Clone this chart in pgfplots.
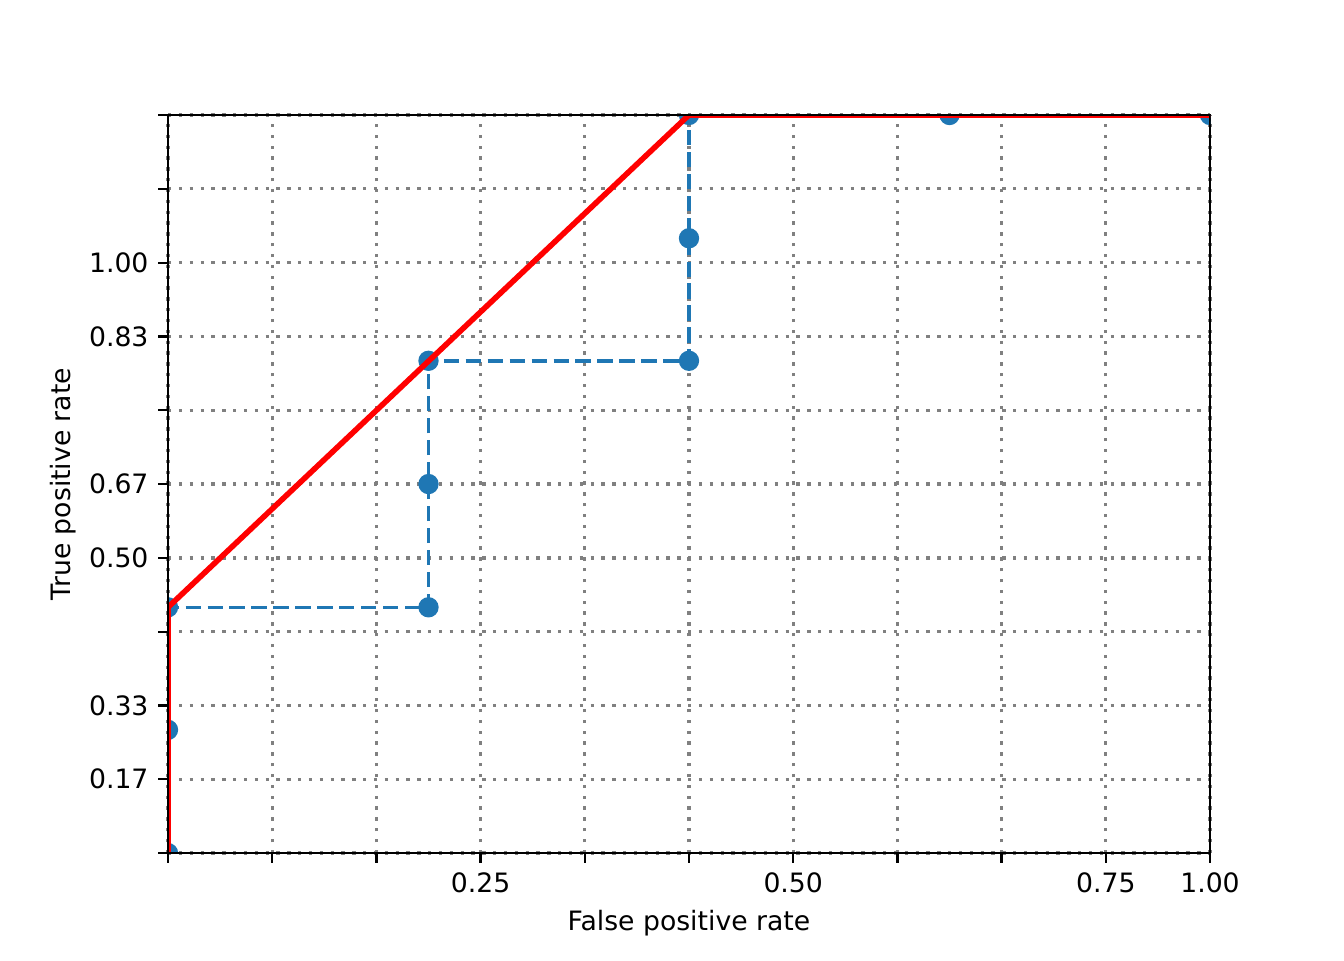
\documentclass[border=0pt]{standalone}
\usepackage{fontspec}
\setmainfont{DejaVu Sans}
\usepackage{pgfplots}
\pgfplotsset{compat=1.18}
\definecolor{mplblue}{HTML}{1F77B4}
\begin{document}
\begin{tikzpicture}
\begin{axis}[
  scale only axis,
  width=375.1pt, height=265.7pt,
  xmin=0, xmax=10, ymin=0, ymax=10,
  xtick={0,1,...,10}, ytick={0,1,...,10},
  xticklabels={,,,0.25,,,0.50,,,0.75,1.00},
  yticklabels={,0.17,0.33,,0.50,0.67,,0.83,1.00,,},
  tick align=outside,
  xtick pos=bottom, ytick pos=left,
  major tick length=3.5pt,
  tick style={black, line width=0.8pt},
  axis line style={line width=0.8pt},
  grid=major,
  major grid style={gray, line width=1.2pt, dash pattern=on 1.2pt off 2.7pt},
  /pgf/number format/assume math mode=true,
  tick label style={font=\fontsize{9.6}{11.5}\selectfont},
  label style={font=\fontsize{9.6}{11.5}\selectfont},
  xlabel={False positive rate},
  ylabel={True positive rate},
  xlabel style={yshift=0.6pt},
  ylabel style={yshift=-2pt},
  clip marker paths=true,
]
\path (rel axis cs:0,0) coordinate (o) (rel axis cs:1,1) coordinate (tr);
\addplot[mplblue, line width=1.3pt, dash pattern=on 5.5pt off 2.4pt, mark=*, mark size=3pt, mark options={solid, draw=mplblue, fill=mplblue}]
coordinates {(0,0) (0,1.67) (0,3.33) (2.5,3.33) (2.5,5) (2.5,6.67) (5,6.67) (5,8.33) (5,10) (7.5,10) (10,10)};
\addplot[red, line width=2pt, no marks]
coordinates {(0,0) (0,3.33) (5,10) (10,10)};
\draw[black, line width=0.8pt] (rel axis cs:0,0) rectangle (rel axis cs:1,1);
\end{axis}
\useasboundingbox ([xshift=-60.48pt,yshift=-38.52pt]o) rectangle ([xshift=48.24pt,yshift=41.4pt]tr);
\end{tikzpicture}
\end{document}
